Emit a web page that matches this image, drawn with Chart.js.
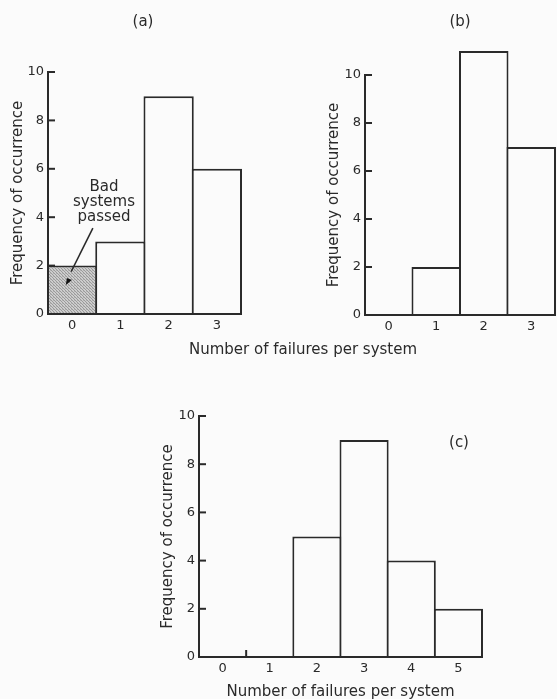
<!DOCTYPE html>
<html><head><meta charset="utf-8">
<script src="https://cdn.jsdelivr.net/npm/chart.js@4"></script>
<style>
html,body{margin:0;padding:0;background:#fbfbfb;overflow:hidden;width:557px;height:699px;}
canvas{position:absolute;}
</style></head><body>
<canvas id="ca" width="557" height="370" style="left:0;top:0"></canvas>
<canvas id="cb" width="277" height="370" style="left:280px;top:0"></canvas>
<canvas id="cc" width="407" height="311" style="left:150px;top:390px"></canvas>
<script>
// ---- data ----
const categoriesAB = ['0', '1', '2', '3'];
const categoriesC = ['0', '1', '2', '3', '4', '5'];
const valuesA = [2, 3, 9, 6];
const valuesB = [0, 2, 11, 7];
const valuesC = [0, 0, 5, 9, 4, 2];
const yTicks = [0, 2, 4, 6, 8, 10];
const panelLabels = ['(a)', '(b)', '(c)'];
const xTitle = 'Number of failures per system';
const yTitle = 'Frequency of occurrence';
const noteLines = ['Bad', 'systems', 'passed'];

// ---- style ----
const INK = '#2a2a2a';
const BG = '#fbfbfb';
const FAMILY = '"DejaVu Sans", sans-serif';
Chart.defaults.font.family = FAMILY;
Chart.defaults.color = INK;

function makePattern() {
  const c = document.createElement('canvas');
  c.width = 3; c.height = 3;
  const g = c.getContext('2d');
  g.fillStyle = '#cdcdcd'; g.fillRect(0, 0, 3, 3);
  g.fillStyle = '#9a9a9a';
  g.fillRect(0, 0, 1, 1); g.fillRect(1, 1, 1, 1); g.fillRect(2, 2, 1, 1);
  g.fillStyle = '#b4b4b4';
  g.fillRect(2, 0, 1, 1);
  return document.getElementById('ca').getContext('2d').createPattern(c, 'repeat');
}

const decor = {
  id: 'decor',
  afterDatasetsDraw(chart, args, o) {
    const ctx = chart.ctx, xs = chart.scales.x, ys = chart.scales.y, a = chart.chartArea;
    ctx.save();
    ctx.strokeStyle = INK; ctx.lineWidth = 2;
    const y0 = ys.getPixelForValue(0);
    const yTop = ys.getPixelForValue(yTicks[yTicks.length - 1]);
    // axes
    ctx.beginPath();
    ctx.moveTo(a.left, yTop - 1); ctx.lineTo(a.left, y0);
    ctx.lineTo(a.right + 1, y0);
    ctx.stroke();
    // inward y ticks
    yTicks.forEach(v => {
      const py = ys.getPixelForValue(v);
      ctx.beginPath(); ctx.moveTo(a.left, py); ctx.lineTo(a.left + 7, py); ctx.stroke();
    });
    (o.xMinor || []).forEach(v => {
      const px = xs.getPixelForValue(v);
      ctx.beginPath(); ctx.moveTo(px, y0); ctx.lineTo(px, y0 - 7); ctx.stroke();
    });
    ctx.fillStyle = INK;
    ctx.textAlign = 'center'; ctx.textBaseline = 'middle';
    ctx.font = '15px ' + FAMILY;
    if (o.label) ctx.fillText(o.label, o.labelX, o.labelY);
    if (o.shared) ctx.fillText(o.shared, o.sharedX, o.sharedY);
    if (o.note) {
      o.note.lines.forEach((t, i) => {
        ctx.fillText(t, xs.getPixelForValue(o.note.x), ys.getPixelForValue(o.note.y[i]));
      });
      const p1 = [xs.getPixelForValue(o.note.from[0]), ys.getPixelForValue(o.note.from[1])];
      const p2 = [xs.getPixelForValue(o.note.to[0]), ys.getPixelForValue(o.note.to[1])];
      const p3 = [xs.getPixelForValue(o.note.tip[0]), ys.getPixelForValue(o.note.tip[1])];
      ctx.lineWidth = 1.5;
      ctx.beginPath(); ctx.moveTo(p1[0], p1[1]); ctx.lineTo(p2[0], p2[1]); ctx.stroke();
      ctx.fillStyle = '#111';
      ctx.beginPath();
      ctx.moveTo(p3[0], p3[1]);
      ctx.lineTo(p3[0] + 1, p3[1] - 7);
      ctx.lineTo(p3[0] + 6, p3[1] - 5);
      ctx.closePath(); ctx.fill();
    }
    ctx.restore();
  }
};

function build(id, labels, values, colors, cfg) {
  return new Chart(document.getElementById(id), {
    type: 'bar',
    data: {
      labels: labels,
      datasets: [{
        data: values,
        backgroundColor: colors,
        borderColor: INK,
        borderWidth: 2,
        categoryPercentage: 1,
        barPercentage: 1.042,
        clip: false
      }]
    },
    options: {
      responsive: false,
      animation: false,
      devicePixelRatio: 1,
      events: [],
      layout: { padding: cfg.padding },
      plugins: { legend: { display: false }, tooltip: { enabled: false }, decor: cfg.decor },
      scales: {
        x: {
          grid: { display: false, drawTicks: false },
          border: { display: false },
          ticks: { font: { size: 13 }, color: INK, padding: 4, maxRotation: 0 },
          title: cfg.xTitle ? { display: true, text: cfg.xTitle, font: { size: 15 }, color: INK, padding: { top: 0, bottom: 0 } } : { display: false },
          afterFit: s => { s.height = cfg.xHeight; }
        },
        y: {
          min: 0, max: 10,
          grid: { display: false, drawTicks: false },
          border: { display: false },
          ticks: { font: { size: 13 }, color: INK, padding: 4 },
          afterBuildTicks: s => { s.ticks = yTicks.map(v => ({ value: v })); },
          title: { display: true, text: yTitle, font: { size: 15 }, color: INK, padding: { top: cfg.yTitlePad, bottom: 0 } },
          afterFit: s => { s.width = cfg.yWidth; }
        }
      }
    },
    plugins: [decor]
  });
}

const pat = makePattern();

build('ca', categoriesAB, valuesA, [pat, BG, BG, BG], {
  padding: { left: 0, top: 72, right: 316, bottom: 0 },
  xHeight: 56, yWidth: 48, yTitlePad: 9,
  decor: {
    label: panelLabels[0], labelX: 143, labelY: 22,
    shared: xTitle, sharedX: 303, sharedY: 350,
    note: { lines: noteLines, x: 0.66, y: [5.25, 4.63, 4.0], from: [0.43, 3.55], to: [-0.02, 1.75], tip: [-0.13, 1.2] }
  }
});

build('cb', categoriesAB, valuesB, BG, {
  padding: { left: 0, top: 75, right: 2, bottom: 0 },
  xHeight: 55, yWidth: 85, yTitlePad: 45,
  decor: { label: panelLabels[1], labelX: 180, labelY: 22 }
});

build('cc', categoriesC, valuesC, BG, {
  padding: { left: 0, top: 26, right: 75, bottom: 0 },
  xHeight: 44, yWidth: 49, yTitlePad: 9, xTitle: xTitle,
  decor: { label: panelLabels[2], labelX: 309, labelY: 53, xMinor: [0.5] }
});
</script>
</body></html>
